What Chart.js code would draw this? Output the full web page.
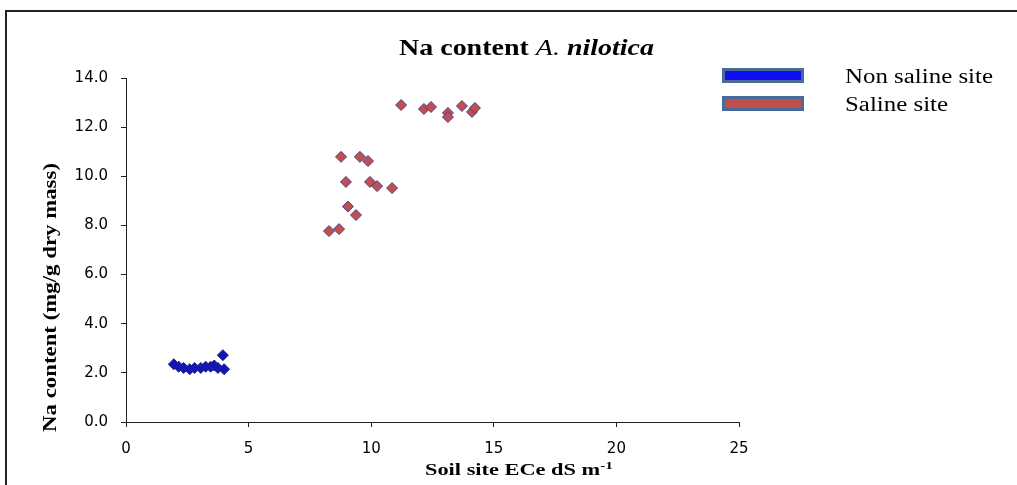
<!DOCTYPE html>
<html>
<head>
<meta charset="utf-8">
<script src="https://cdn.jsdelivr.net/npm/chart.js@4/dist/chart.umd.min.js"></script>
<style>
  body { margin: 0; background: #fff; }
  #wrap { width: 1017px; height: 485px; }
</style>
</head>
<body>
<div id="wrap"><canvas id="naChart" width="1017" height="485"></canvas></div>
<script>
// soil ECe (dS m-1) and Na content (mg/g dry mass)
var nonSalineEce = [1.95, 2.15, 2.35, 2.6, 2.8, 3.05, 3.25, 3.45, 3.6, 3.75, 3.95, 4.0];
var nonSalineNa  = [2.35, 2.25, 2.2, 2.15, 2.2, 2.2, 2.25, 2.25, 2.3, 2.2, 2.72, 2.15];
var salineEce = [8.28, 8.69, 8.77, 8.97, 9.05, 9.38, 9.54, 9.87, 9.95, 10.24, 10.85,
                 11.22, 12.15, 12.44, 13.13, 13.13, 13.7, 14.11, 14.23];
var salineNa  = [7.77, 7.85, 10.79, 9.77, 8.77, 8.42, 10.79, 10.62, 9.77, 9.6, 9.52,
                 12.9, 12.74, 12.82, 12.58, 12.41, 12.86, 12.62, 12.78];
var seriesNames = ['Non saline site', 'Saline site'];
var xTicks = [0, 5, 10, 15, 20, 25];
var yTicks = [0, 2, 4, 6, 8, 10, 12, 14];

function toPoints(xs, ys) {
  return xs.map(function (x, i) { return { x: x, y: ys[i] }; });
}

// draw a list of text runs squeezed/stretched to a given width
function textRuns(ctx, parts, x, y, width) {
  var total = 0;
  parts.forEach(function (p) { ctx.font = p.font; total += ctx.measureText(p.text).width; });
  ctx.save();
  ctx.translate(x, y);
  ctx.scale(width / total, 1);
  var cx = 0;
  parts.forEach(function (p) {
    ctx.font = p.font;
    ctx.fillText(p.text, cx, p.dy || 0);
    cx += ctx.measureText(p.text).width;
  });
  ctx.restore();
  return width / total;
}

var serif = '"Liberation Serif", "Times New Roman", serif';

var decorations = {
  id: 'decorations',
  afterDraw: function (chart) {
    var ctx = chart.ctx;
    ctx.save();
    // frame
    ctx.strokeStyle = '#222';
    ctx.lineWidth = 2;
    ctx.beginPath();
    ctx.moveTo(6, 485);
    ctx.lineTo(6, 11);
    ctx.lineTo(1017, 11);
    ctx.stroke();

    ctx.fillStyle = '#000';
    ctx.textBaseline = 'alphabetic';
    ctx.textAlign = 'left';

    // title
    textRuns(ctx, [
      { text: 'Na content ', font: 'bold 23px ' + serif },
      { text: 'A.', font: 'italic 23px ' + serif },
      { text: ' nilotica', font: 'italic bold 23px ' + serif }
    ], 399, 55, 255);

    // x axis title
    textRuns(ctx, [
      { text: 'Soil site ECe dS m', font: 'bold 16px ' + serif },
      { text: '-1', font: 'bold 11px ' + serif, dy: -6 }
    ], 425, 475, 188);

    // y axis title
    ctx.save();
    ctx.translate(56, 432);
    ctx.rotate(-Math.PI / 2);
    textRuns(ctx, [{ text: 'Na content (mg/g dry mass)', font: 'bold 18px ' + serif }], 0, 0, 269);
    ctx.restore();

    // legend
    var sx = 1;
    chart.data.datasets.forEach(function (ds, i) {
      var top = 68 + i * 28;
      ctx.fillStyle = ds.legendFill;
      ctx.fillRect(722, top, 82, 15);
      ctx.strokeStyle = '#4A6A9A';
      ctx.lineWidth = 3;
      ctx.strokeRect(723.5, top + 1.5, 79, 12);
      ctx.fillStyle = '#000';
      ctx.font = '20px ' + serif;
      if (i === 0) {
        sx = textRuns(ctx, [{ text: ds.label, font: '20px ' + serif }], 845, top + 15, 148);
      } else {
        var w = ctx.measureText(ds.label).width * sx;
        textRuns(ctx, [{ text: ds.label, font: '20px ' + serif }], 845, top + 15, w);
      }
    });
    ctx.restore();
  }
};

var tickFont = { family: '"DejaVu Sans", sans-serif', size: 15 };

new Chart(document.getElementById('naChart'), {
  type: 'scatter',
  data: {
    datasets: [{
      label: seriesNames[0],
      data: toPoints(nonSalineEce, nonSalineNa),
      pointStyle: 'rectRot',
      pointRadius: 5.5,
      borderWidth: 1,
      backgroundColor: '#1414B4',
      borderColor: '#22228A',
      legendFill: '#1010EE'
    }, {
      label: seriesNames[1],
      data: toPoints(salineEce, salineNa),
      pointStyle: 'rectRot',
      pointRadius: 5.5,
      borderWidth: 1,
      backgroundColor: '#C0504D',
      borderColor: '#4B3C8E',
      legendFill: '#C0504D'
    }]
  },
  options: {
    responsive: false,
    animation: false,
    layout: { padding: { top: 78, right: 278, bottom: 0, left: 0 } },
    plugins: {
      legend: { display: false },
      title: { display: false },
      tooltip: { enabled: false }
    },
    scales: {
      x: {
        type: 'linear',
        min: xTicks[0],
        max: xTicks[xTicks.length - 1],
        afterBuildTicks: function (s) { s.ticks = xTicks.map(function (v) { return { value: v }; }); },
        afterFit: function (s) { s.height = 63; },
        ticks: { color: '#000', font: tickFont, padding: 13 },
        grid: { drawOnChartArea: false, drawTicks: true, tickLength: 5, color: '#222' },
        border: { color: '#222', width: 1 }
      },
      y: {
        min: yTicks[0],
        max: yTicks[yTicks.length - 1],
        afterBuildTicks: function (s) { s.ticks = yTicks.map(function (v) { return { value: v }; }); },
        afterFit: function (s) { s.width = 126; },
        ticks: {
          color: '#000',
          font: tickFont,
          padding: 13,
          callback: function (v) { return Number(v).toFixed(1); }
        },
        grid: { drawOnChartArea: false, drawTicks: true, tickLength: 5, color: '#222' },
        border: { color: '#222', width: 1 }
      }
    }
  },
  plugins: [decorations]
});
</script>
</body>
</html>
